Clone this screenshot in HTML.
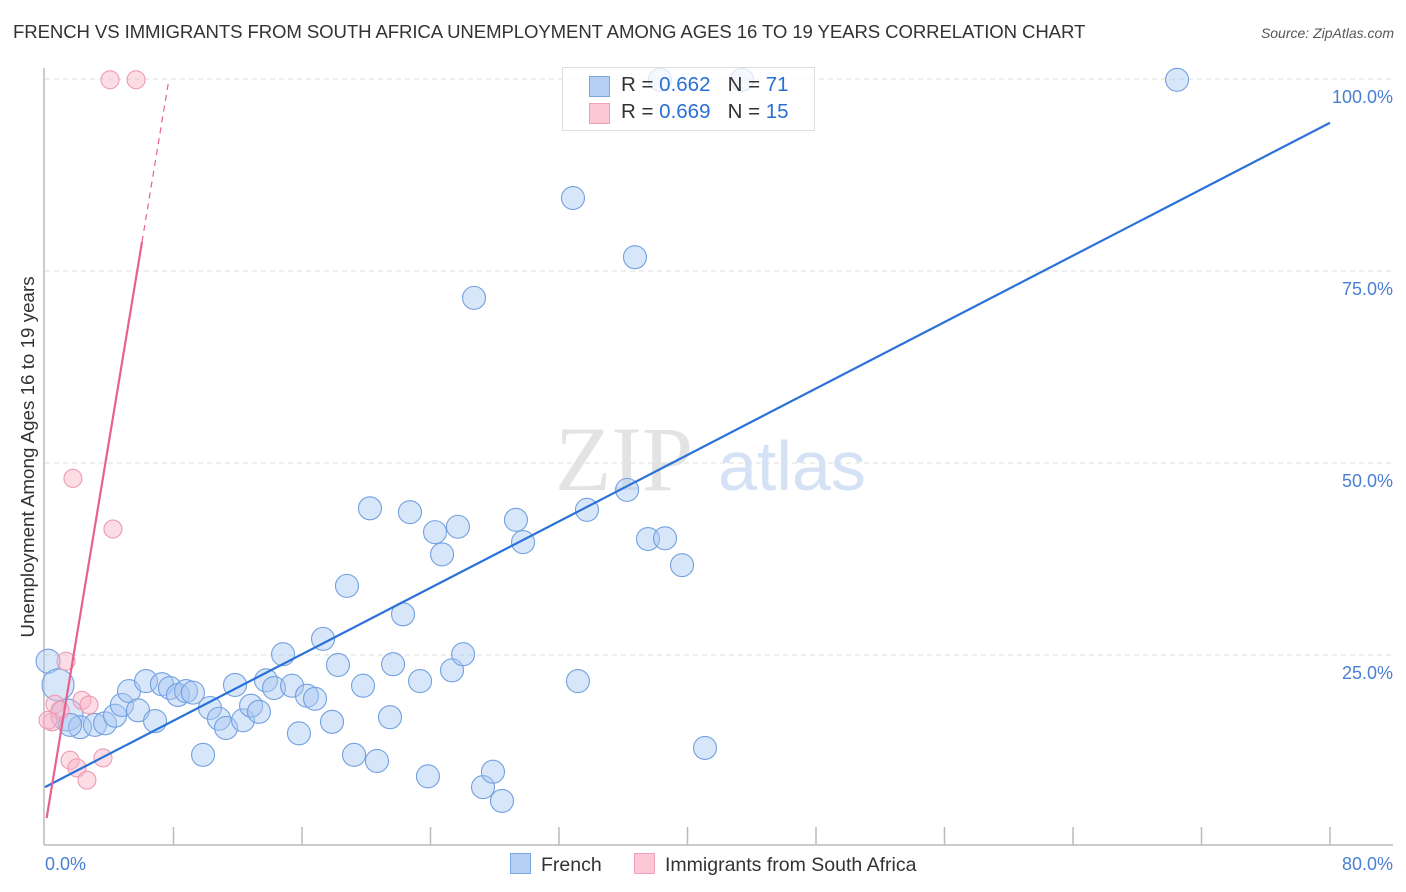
<!DOCTYPE html>
<html><head><meta charset="utf-8"><style>
body{margin:0;background:#fff;font-family:"Liberation Sans",sans-serif;}
#wrap{position:relative;width:1406px;height:892px;overflow:hidden;}
.t{position:absolute;white-space:nowrap;}
</style></head><body>
<div id="wrap">
<div class="t" style="left:13px;top:21px;font-size:18.6px;color:#333;letter-spacing:-0.1px">FRENCH VS IMMIGRANTS FROM SOUTH AFRICA UNEMPLOYMENT AMONG AGES 16 TO 19 YEARS CORRELATION CHART</div>
<div class="t" style="right:12px;top:25px;font-size:14px;color:#555;font-style:italic">Source: ZipAtlas.com</div>
<svg id="svg" width="1406" height="892" style="position:absolute;left:0;top:0"></svg>
</div>
<script>
const xTicks=[0,8,16,24,32,40,48,56,64,72,80];
const yTicks=[25,50,75,100];
const frenchX=[0.19,0.81,1.37,2.18,1.56,3.11,3.74,4.36,4.79,5.23,5.79,6.29,6.85,7.28,7.78,8.28,8.78,9.21,9.84,10.27,10.83,11.27,11.83,12.33,12.83,13.32,13.76,14.26,14.82,15.38,15.81,16.31,16.81,17.31,17.87,18.24,18.80,19.24,19.80,20.23,20.67,21.48,21.67,22.29,22.72,23.35,23.84,24.28,24.72,25.34,25.71,26.03,26.71,27.27,27.89,28.45,29.32,29.76,32.87,33.18,33.74,36.24,36.73,37.54,38.60,39.66,41.09,38.29,43.40,70.48];
const frenchY=[24.2,21.1,17.2,15.6,15.9,15.9,16.1,17.1,18.5,20.3,17.8,21.6,16.4,21.2,20.7,19.8,20.3,20.1,12.0,18.1,16.7,15.5,21.1,16.5,18.4,17.6,21.7,20.7,25.1,21.0,14.8,19.7,19.3,27.1,16.3,23.7,34.0,12.0,21.0,44.1,11.2,16.9,23.8,30.3,43.6,21.6,9.2,41.0,38.1,23.0,41.7,25.1,71.5,7.8,9.8,6.0,42.6,39.7,84.5,21.6,43.9,46.5,76.8,40.1,40.2,36.7,12.9,99.9,99.9,99.9];
const saX=[4.05,5.67,1.74,4.23,1.31,0.62,0.93,2.30,2.74,0.44,0.19,1.56,1.99,2.61,3.61];
const saY=[99.9,99.9,48.0,41.4,24.2,18.6,17.8,19.1,18.5,16.3,16.5,11.3,10.3,8.7,11.6];
const frenchLine=[7.8,94.3];
const saLine=[2.5,78.8,6.04];
const X=v=>45+v/80*1285;
const Y=v=>847-v/25*192;
const svg=document.getElementById('svg');
const NS='http://www.w3.org/2000/svg';
function mk(tag,attrs,parent){const e=document.createElementNS(NS,tag);for(const k in attrs)e.setAttribute(k,attrs[k]);(parent||svg).appendChild(e);return e;}
yTicks.forEach(v=>{
 const g=mk('line',{x1:45,x2:1393,y1:Y(v),y2:Y(v),stroke:'#ddd','stroke-dasharray':'5,4'});
 
 
 const t=mk('text',{x:1393,y:Y(v)+24,'text-anchor':'end','font-size':'18',fill:'#4a7fd4','font-family':'Liberation Sans'});
 t.textContent=v.toFixed(1)+'%';
 
 
});
const ax=mk('line',{x1:44,x2:44,y1:68,y2:845,stroke:'#bbb','stroke-width':1.5});


const bx=mk('line',{x1:44,x2:1393,y1:845,y2:845,stroke:'#bbb','stroke-width':1.5});


xTicks.forEach(v=>{if(v===0)return;
 const t=mk('line',{x1:X(v),x2:X(v),y1:827,y2:845,stroke:'#bbb','stroke-width':1.5});
 
 
});
[[0,'start',45],[80,'end',1393]].forEach(([v,a,px])=>{
 const t=mk('text',{x:px,y:870,'text-anchor':a,'font-size':'18',fill:'#4a7fd4','font-family':'Liberation Sans'});
 t.textContent=v.toFixed(1)+'%';
 
 
});
const wm=mk('text',{x:555,y:490,'font-size':'92','font-family':'Liberation Serif',fill:'#e3e3e3'});wm.textContent='ZIP';


const wm2=mk('text',{x:718,y:490,'font-size':'70','font-family':'Liberation Sans',fill:'#d5e2f5'});wm2.textContent='atlas';


const yt=mk('text',{x:0,y:0,transform:'translate(34,457) rotate(-90)','text-anchor':'middle','font-size':'18.8',fill:'#333','font-family':'Liberation Sans'});
yt.textContent='Unemployment Among Ages 16 to 19 years';


frenchX.forEach((x,i)=>{
 const r=(i===1||i===2)?16:(i===0?12:11.5);
 const c=mk('circle',{cx:X(x),cy:Y(frenchY[i]),r:r,fill:'rgba(168,200,242,0.45)',stroke:'#72a0e0','stroke-width':1.1});
 
 
});
saX.forEach((x,i)=>{
 const c=mk('circle',{cx:X(x),cy:Y(saY[i]),r:9,fill:'rgba(248,180,200,0.45)',stroke:'#ee9ab2','stroke-width':1.1});
 
 
});
const fl=mk('line',{x1:X(0),y1:Y(frenchLine[0]),x2:X(80),y2:Y(frenchLine[1]),stroke:'#2a72d8','stroke-width':2.2});


const slope=(saLine[1]-saLine[0])/saLine[2];
const pl=mk('line',{x1:X(0.1),y1:Y(saLine[0]+slope*0.1),x2:X(saLine[2]),y2:Y(saLine[1]),stroke:'#e8608e','stroke-width':2.2});


const xe=(100-saLine[0])/slope;
const pd=mk('line',{x1:X(saLine[2]),y1:Y(saLine[1]),x2:X(xe),y2:Y(100),stroke:'#e8608e','stroke-width':1.2,'stroke-dasharray':'6,5'});


</script>
<div class="t" style="left:562px;top:67px;width:251px;height:62px;border:1px solid #ddd;background:rgba(255,255,255,0.75);font-size:20.5px;color:#333">
 <div style="position:absolute;left:26px;top:8px;width:19px;height:19px;background:#b5d0f3;border:1px solid #7aa6e4"></div>
 <div style="position:absolute;left:58px;top:5px">R = <span style="color:#2a6fd6">0.662</span>&nbsp;&nbsp;&nbsp;N = <span style="color:#2a6fd6">71</span></div>
 <div style="position:absolute;left:26px;top:35px;width:19px;height:19px;background:#fbc8d6;border:1px solid #f0a0b8"></div>
 <div style="position:absolute;left:58px;top:32px">R = <span style="color:#2a6fd6">0.669</span>&nbsp;&nbsp;&nbsp;N = <span style="color:#2a6fd6">15</span></div>
</div>
<div class="t" style="left:510px;top:853px;font-size:19.5px;color:#333"><span style="display:inline-block;width:19px;height:19px;background:#b5d0f3;border:1px solid #7aa6e4;vertical-align:-3px;margin-right:10px"></span>French</div>
<div class="t" style="left:634px;top:853px;font-size:19.5px;color:#333"><span style="display:inline-block;width:19px;height:19px;background:#fbc8d6;border:1px solid #f0a0b8;vertical-align:-3px;margin-right:10px"></span>Immigrants from South Africa</div>
</body></html>
